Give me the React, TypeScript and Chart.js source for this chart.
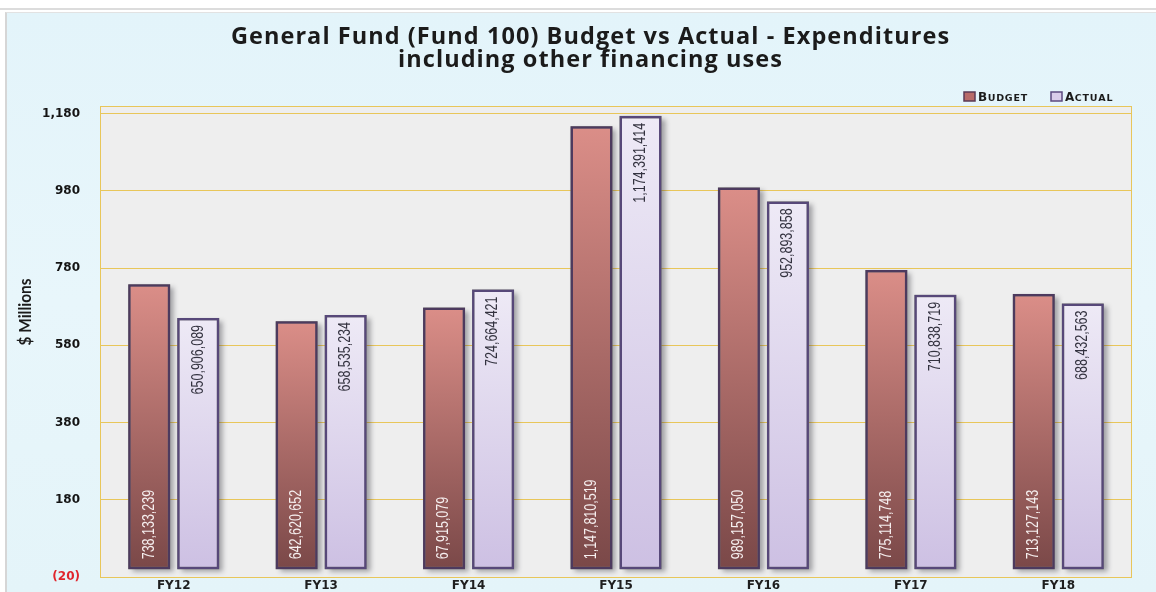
import React, { useEffect, useRef } from "react";
import { Chart, registerables } from "chart.js";

Chart.register(...registerables);

const categories = ["FY12", "FY13", "FY14", "FY15", "FY16", "FY17", "FY18"];
const budgetValues = [738133239, 642620652, 677915079, 1147810519, 989157050, 775114748, 713127143];
const actualValues = [650906089, 658535234, 724664421, 1174391414, 952893858, 710838719, 688432563];
const budgetLabels = ["738,133,239", "642,620,652", "67,915,079", "1,147,810,519", "989,157,050", "775,114,748", "713,127,143"];
const actualLabels = ["650,906,089", "658,535,234", "724,664,421", "1,174,391,414", "952,893,858", "710,838,719", "688,432,563"];
const yTicks = [-20, 180, 380, 580, 780, 980, 1180];
const yMin = -20;
const yMax = 1200;
const titleLines = ["General Fund (Fund 100) Budget vs Actual - Expenditures", "including other financing uses"];
const seriesNames = ["Budget", "Actual"];
const yAxisTitle = "$ Millions";

const LABEL_FONT = '16px "Liberation Sans", Arial, sans-serif';
const NARROW = 0.78;
const TITLE_FONT = 'bold 23.5px "Open Sans", "Noto Sans", sans-serif';
const YTITLE_FAMILY = 'Lato, "Open Sans", sans-serif';

function barGradient(ctx: any, top: string, bottom: string, fallback: string) {
  const chart = ctx.chart;
  if (!chart.chartArea || ctx.type !== "data") return fallback;
  const ys = chart.scales.y;
  const yTop = ys.getPixelForValue(ctx.raw);
  const yBot = ys.getPixelForValue(0);
  if (!isFinite(yTop) || !isFinite(yBot) || yTop === yBot) return fallback;
  const g = chart.ctx.createLinearGradient(0, yTop, 0, yBot);
  g.addColorStop(0, top);
  g.addColorStop(1, bottom);
  return g;
}

const decorPlugin = {
  id: "decor",
  beforeDraw(chart: any) {
    const { ctx, chartArea: a } = chart;
    ctx.save();
    ctx.fillStyle = "#eeeeee";
    ctx.fillRect(a.left, a.top, a.right - a.left, a.bottom - a.top);
    ctx.restore();
  },
  beforeDatasetsDraw(chart: any) {
    const { ctx, chartArea: a } = chart;
    ctx.save();
    ctx.strokeStyle = "#e8c65a";
    ctx.lineWidth = 1;
    ctx.strokeRect(Math.round(a.left) + 0.5, Math.round(a.top) + 0.5, Math.round(a.right - a.left) - 1, Math.round(a.bottom - a.top));
    chart.data.datasets.forEach((_: any, di: number) => {
      const meta = chart.getDatasetMeta(di);
      meta.data.forEach((el: any) => {
        const p = el.getProps(["x", "y", "base", "width"], true);
        ctx.save();
        ctx.shadowColor = "rgba(40,40,50,0.4)";
        ctx.shadowBlur = 5;
        ctx.shadowOffsetX = 4;
        ctx.shadowOffsetY = 3;
        ctx.fillStyle = "#777";
        ctx.fillRect(p.x - p.width / 2, p.y, p.width, p.base - p.y);
        ctx.restore();
      });
    });
    ctx.restore();
  },
  afterDatasetsDraw(chart: any) {
    const { ctx } = chart;
    ctx.save();
    ctx.font = LABEL_FONT;
    ctx.textBaseline = "middle";
    const m0 = chart.getDatasetMeta(0);
    m0.data.forEach((el: any, i: number) => {
      const p = el.getProps(["x", "y", "base"], true);
      ctx.save();
      ctx.translate(p.x, p.base - 10);
      ctx.rotate(-Math.PI / 2);
      ctx.scale(NARROW, 1);
      ctx.textAlign = "left";
      ctx.fillStyle = "#f6efef";
      ctx.fillText(budgetLabels[i], 0, 0);
      ctx.restore();
    });
    const m1 = chart.getDatasetMeta(1);
    m1.data.forEach((el: any, i: number) => {
      const p = el.getProps(["x", "y", "base"], true);
      ctx.save();
      ctx.translate(p.x, p.y + 7);
      ctx.rotate(-Math.PI / 2);
      ctx.scale(NARROW, 1);
      ctx.textAlign = "right";
      ctx.fillStyle = "#33323f";
      ctx.fillText(actualLabels[i], 0, 0);
      ctx.restore();
    });
    ctx.restore();
  },
  afterDraw(chart: any) {
    const { ctx } = chart;
    ctx.save();
    ctx.fillStyle = "#1b1b1b";
    ctx.textAlign = "center";
    ctx.textBaseline = "alphabetic";
    ctx.font = TITLE_FONT;
    const w = ctx.measureText(titleLines[0]).width;
    const spacing = Math.max(0, Math.min(2.5, (719 - w) / titleLines[0].length));
    (ctx as any).letterSpacing = `${spacing.toFixed(2)}px`;
    ctx.fillText(titleLines[0], 590 + spacing / 2, 44);
    ctx.fillText(titleLines[1], 590 + spacing / 2, 67);
    (ctx as any).letterSpacing = "0px";
    ctx.save();
    ctx.translate(31, 312);
    ctx.rotate(-Math.PI / 2);
    ctx.font = `bold 17px ${YTITLE_FAMILY}`;
    const tw = ctx.measureText(yAxisTitle).width;
    ctx.scale(Math.min(1.1, 67 / tw), 1);
    ctx.textAlign = "center";
    ctx.fillText(yAxisTitle, 0, 0);
    ctx.restore();
    const items = [
      { name: seriesNames[0], x: 964, fill: "#b86b69", stroke: "#5a3a55" },
      { name: seriesNames[1], x: 1051, fill: "#d9cdea", stroke: "#5b4a80" },
    ];
    ctx.textAlign = "left";
    items.forEach((it) => {
      ctx.fillStyle = it.fill;
      ctx.fillRect(it.x, 92, 11, 9);
      ctx.strokeStyle = it.stroke;
      ctx.lineWidth = 1.5;
      ctx.strokeRect(it.x, 92, 11, 9);
      const up = it.name.toUpperCase();
      let x = it.x + 14;
      ctx.fillStyle = "#1b1b1b";
      ctx.font = 'bold 12px "DejaVu Sans", sans-serif';
      ctx.fillText(up[0], x, 101);
      x += ctx.measureText(up[0]).width + 0.5;
      ctx.font = 'bold 9.5px "DejaVu Sans", sans-serif';
      for (const ch of up.slice(1)) {
        ctx.fillText(ch, x, 101);
        x += ctx.measureText(ch).width + 0.8;
      }
    });
    ctx.restore();
  },
};

export default function App() {
  const ref = useRef<HTMLCanvasElement | null>(null);

  useEffect(() => {
    document.body.style.margin = "0";
    if (!ref.current) return;
    const chart = new Chart(ref.current, {
      type: "bar",
      data: {
        labels: categories,
        datasets: [
          {
            label: seriesNames[0],
            data: budgetValues.map((v) => v / 1e6),
            backgroundColor: (c: any) => barGradient(c, "#db8e88", "#7a4848", "#b06a66"),
            borderColor: "#4d3a5e",
            borderWidth: 2.5,
            borderSkipped: false,
            categoryPercentage: 0.665,
            barPercentage: 0.857,
          },
          {
            label: seriesNames[1],
            data: actualValues.map((v) => v / 1e6),
            backgroundColor: (c: any) => barGradient(c, "#eeeaf6", "#cdc0e3", "#ddd3ee"),
            borderColor: "#574879",
            borderWidth: 2.5,
            borderSkipped: false,
            categoryPercentage: 0.665,
            barPercentage: 0.857,
          },
        ],
      },
      options: {
        responsive: false,
        animation: false,
        layout: { padding: { top: 106, right: 24, bottom: 0, left: 0 } },
        plugins: {
          legend: { display: false },
          title: { display: false },
          tooltip: { enabled: false },
        },
        scales: {
          x: {
            grid: { display: false, drawTicks: false },
            border: { display: false },
            ticks: {
              color: "#1e1e1e",
              padding: 2,
              font: { family: '"DejaVu Sans", sans-serif', size: 12, weight: "bold" },
            },
            afterFit: (s: any) => {
              s.height = 15;
              s.paddingLeft = 0;
              s.paddingRight = 0;
            },
          },
          y: {
            min: yMin,
            max: yMax,
            afterBuildTicks: (s: any) => {
              s.ticks = yTicks.map((v) => ({ value: v }));
            },
            afterFit: (s: any) => {
              s.width = 100;
              s.paddingTop = 0;
              s.paddingBottom = 0;
            },
            grid: { color: "#e8c65a", lineWidth: 1, drawTicks: false },
            border: { display: false },
            ticks: {
              padding: 20,
              color: (c: any) => (c.tick && c.tick.value < 0 ? "#e0252d" : "#141414"),
              font: { family: '"DejaVu Sans", sans-serif', size: 12, weight: "bold" },
              callback: (v: any) => (Number(v) < 0 ? `(${Math.abs(Number(v))})` : Number(v).toLocaleString("en-US")),
            },
          },
        },
      },
      plugins: [decorPlugin],
    });
    return () => chart.destroy();
  }, []);

  return (
    <div style={{ position: "relative", width: 1156, height: 592, background: "#ffffff", overflow: "hidden" }}>
      <div style={{ position: "absolute", left: 0, top: 8, width: 1156, height: 2, background: "#dcdcdc" }} />
      <div
        style={{
          position: "absolute",
          left: 5,
          top: 12,
          width: 1151,
          height: 580,
          boxSizing: "border-box",
          borderLeft: "2px solid #d6d6d6",
          borderTop: "1px solid #e2e2e2",
          background: "linear-gradient(180deg, #e3f4fa 0%, #e8f6fb 50%, #e4f4f9 100%)",
        }}
      />
      <canvas ref={ref} width={1156} height={592} style={{ position: "absolute", left: 0, top: 0 }} />
    </div>
  );
}
